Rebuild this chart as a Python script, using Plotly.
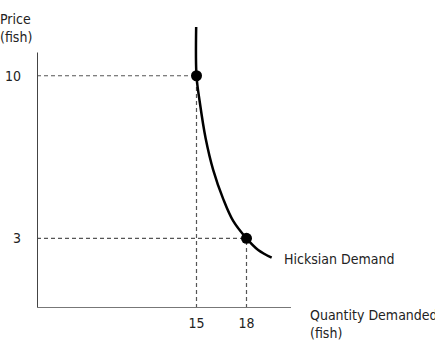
import plotly.graph_objects as go

# Data
curve_q = [14.98, 15.0, 15.2, 15.55, 16.0, 16.6, 17.2, 18.0, 18.7, 19.51]
curve_p = [12.1, 10.0, 8.85, 7.3, 5.95, 4.7, 3.75, 3.0, 2.5, 2.17]
point_q = [15, 18]
point_p = [10, 3]
x_tick_vals = [15, 18]
x_tick_text = ["15", "18"]
y_tick_vals = [3, 10]
y_tick_text = ["3", "10"]

X_MIN, X_MAX = 5.43, 20.67
Y_MIN, Y_MAX = 0.0, 12.4
Y_AXIS_TOP = 11.0

FONT = "Liberation Sans Narrow, DejaVu Sans Condensed, Open Sans, sans-serif"

fig = go.Figure()

fig.add_trace(go.Scatter(
    x=curve_q, y=curve_p, mode="lines",
    line=dict(color="black", width=2.5, shape="spline", smoothing=1.0),
    hoverinfo="skip", showlegend=False,
))
fig.add_trace(go.Scatter(
    x=point_q, y=point_p, mode="markers",
    marker=dict(color="black", size=11),
    showlegend=False,
))

shapes = []
# axes
shapes.append(dict(type="line", xref="x", yref="y", x0=X_MIN, x1=X_MIN, y0=Y_MIN, y1=Y_AXIS_TOP,
                   line=dict(color="#444", width=2)))
shapes.append(dict(type="line", xref="x", yref="y", x0=X_MIN, x1=X_MAX, y0=Y_MIN, y1=Y_MIN,
                   line=dict(color="#777", width=2)))
# dashed guides
for q, p in zip(point_q, point_p):
    shapes.append(dict(type="line", xref="x", yref="y", x0=X_MIN, x1=q, y0=p, y1=p,
                       line=dict(color="#555", width=1.2, dash="4px,3px"), layer="below"))
    shapes.append(dict(type="line", xref="x", yref="y", x0=q, x1=q, y0=Y_MIN, y1=p,
                       line=dict(color="#555", width=1.2, dash="4px,3px"), layer="below"))

fig.update_layout(
    width=435, height=342,
    margin=dict(l=37, r=144, t=20, b=34, autoexpand=False),
    plot_bgcolor="white", paper_bgcolor="white",
    font=dict(family=FONT, size=14, color="#222"),
    showlegend=False,
    shapes=shapes,
    xaxis=dict(range=[X_MIN, X_MAX], showgrid=False, zeroline=False, showline=False,
               tickvals=x_tick_vals, ticktext=x_tick_text, ticks="", ticklabelstandoff=5,
               tickfont=dict(size=14), automargin=False),
    yaxis=dict(range=[Y_MIN, Y_MAX], showgrid=False, zeroline=False, showline=False,
               tickvals=y_tick_vals, ticktext=y_tick_text, ticks="", ticklabelstandoff=15,
               tickfont=dict(size=14), automargin=False),
    annotations=[
        dict(text="Price<br>(fish)", xref="paper", yref="paper", x=0, y=1, xanchor="left",
             yanchor="bottom", xshift=-39, yshift=-27, showarrow=False, align="left"),
        dict(text="Hicksian Demand", xref="x", yref="y", x=19.51, y=2.17, xanchor="left",
             yanchor="middle", xshift=10, yshift=-1, showarrow=False),
        dict(text="Quantity Demanded<br>(fish)", xref="paper", yref="paper", x=1, y=0,
             xanchor="left", yanchor="top", xshift=17, yshift=3, showarrow=False, align="left"),
    ],
)

fig.write_html("out.html")
